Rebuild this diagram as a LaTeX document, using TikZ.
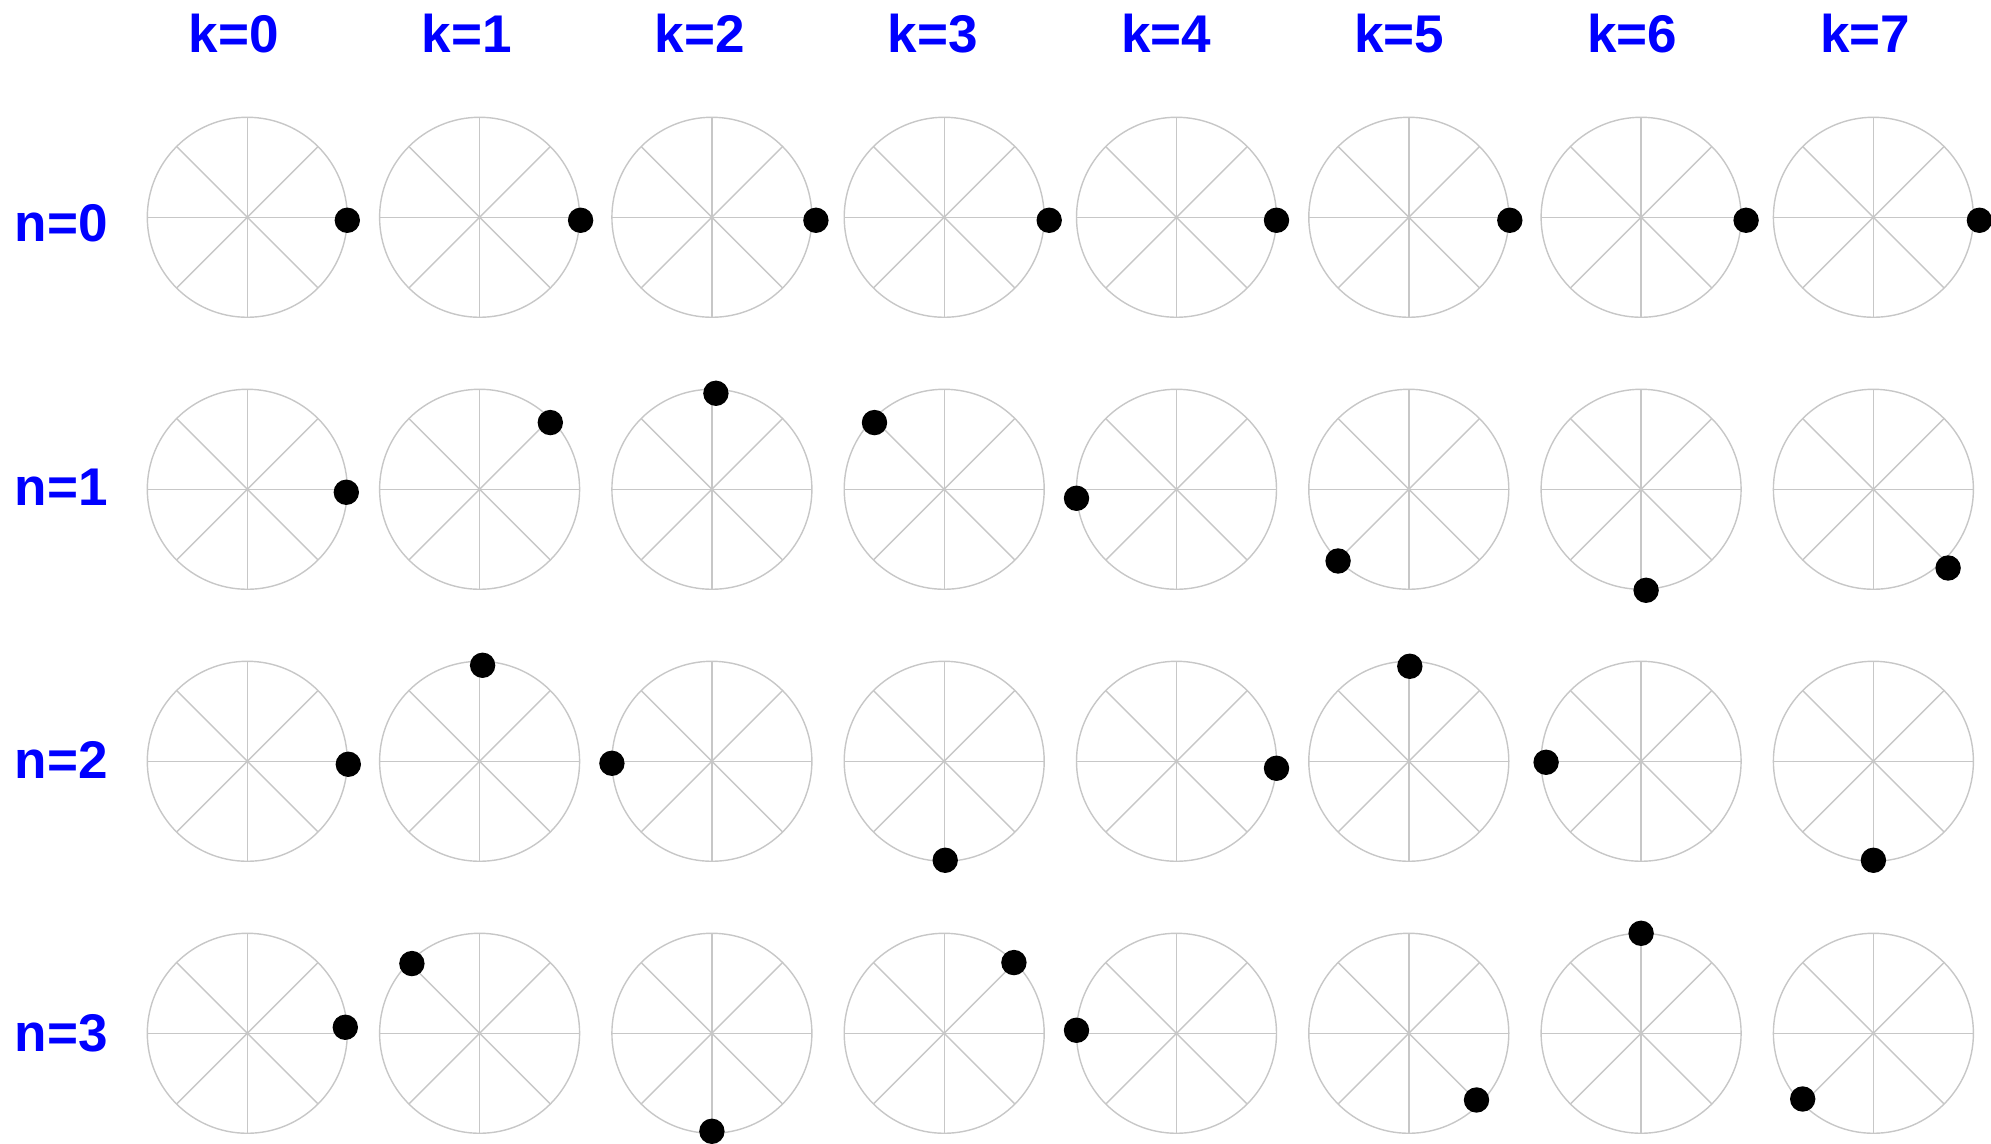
\documentclass[tikz,border=0pt]{standalone}
\usepackage{fontspec}
\setmainfont{Liberation Sans}
\begin{document}
\begin{tikzpicture}[
  wheel/.style={draw=black!22, line width=0.4pt},
  dot/.style={fill=black},
  lbl/.style={text=blue, anchor=base, font=\fontsize{15.1}{18}\selectfont\bfseries}
]
  \useasboundingbox (0,0) rectangle (19.91,11.44);

  % --- 1. ラベル ---
  \foreach \k in {0,...,7}
    \node[lbl] (k\k) at ({2.34+2.33*\k}, 10.917) {k=\k};
  \foreach \n/\y in {0/9.027, 1/6.383, 2/3.65, 3/0.923}
    \node[lbl] (n\n) at (0.613, \y) {n=\n};

  % --- 2. 円と8本の放射線 ---
  \foreach \n in {0,...,3}
    \foreach \k in {0,...,7} {
      \coordinate (c\n\k) at ({2.473+2.323*\k}, {9.267-2.72*\n});
      \draw[wheel] (c\n\k) circle (1);
      \foreach \a in {0,45,90,135}
        \draw[wheel] ([shift={(\a:1)}]c\n\k) -- ([shift={({\a+180}:1)}]c\n\k);
    }

  % --- 3. 点: 角度 45*n*k 度 (位置は少しずれている) ---
  \foreach \n/\k/\dx/\dy in {
      0/0/0/3, 0/1/1/3, 0/2/4/3, 0/3/5/3, 0/4/0/3, 0/5/1/3, 0/6/5/3, 0/7/6/3,
      1/0/-1/3, 1/1/0/4, 1/2/4/4, 1/3/1/4, 1/4/0/9, 1/5/0/1, 1/6/5/1, 1/7/4/8,
      2/0/1/3, 2/1/3/4, 2/2/0/2, 2/3/1/-1, 2/4/0/7, 2/5/1/5, 2/6/5/1, 2/7/0/-1,
      3/0/-2/-6, 3/1/3/1, 3/2/0/-2, 3/3/-1/0, 3/4/0/-3, 3/5/-3/-4, 3/6/0/0, 3/7/0/-5}
    \fill[dot] ([shift={({cos(45*\n*\k)+0.01*\dx},{sin(45*\n*\k)-0.01*\dy})}]c\n\k) circle (0.127);
\end{tikzpicture}
\end{document}
